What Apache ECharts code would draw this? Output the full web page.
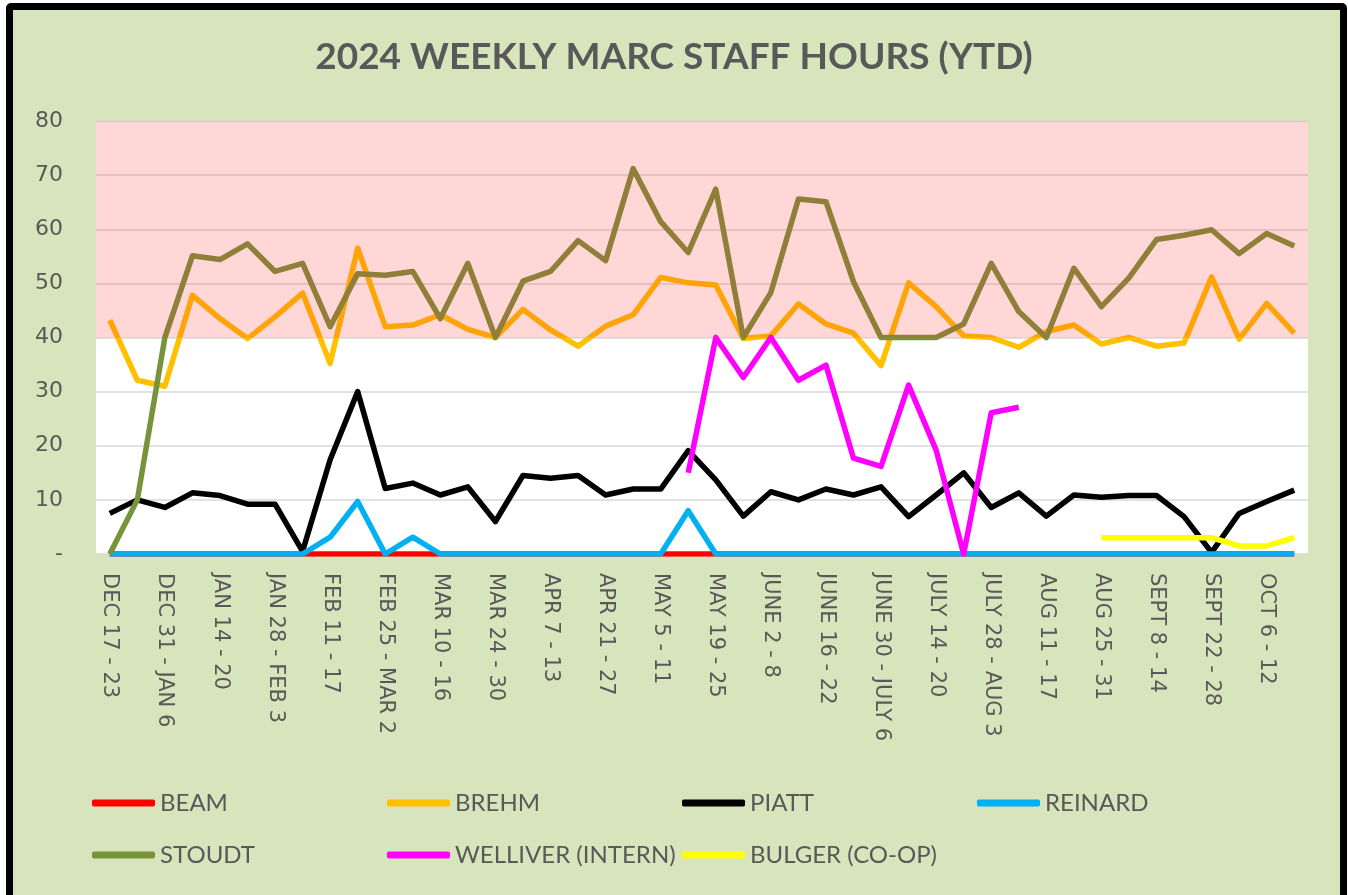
<!DOCTYPE html>
<html>
<head>
<meta charset="utf-8">
<title>2024 Weekly MARC Staff Hours</title>
<script src="https://cdn.jsdelivr.net/npm/echarts@6/dist/echarts.min.js"></script>
<style>
  html, body { margin: 0; padding: 0; background: #fff; }
  .frame {
    position: absolute; left: 6px; top: 3px; width: 1341px; height: 900px;
    box-sizing: border-box; border: 7px solid #000; border-radius: 5px;
    background: #D8E4BC;
  }
  #chart { position: absolute; left: 0; top: 0; width: 1348px; height: 895px; }
</style>
</head>
<body>
<div class="frame"></div>
<div id="chart"></div>
<script>
  // weeks (x axis)
  var weeks = [
    'DEC 17 - 23', 'DEC 24 - 30', 'DEC 31 - JAN 6', 'JAN 7 - 13', 'JAN 14 - 20', 'JAN 21 - 27',
    'JAN 28 - FEB 3', 'FEB 4 - 10', 'FEB 11 - 17', 'FEB 18 - 24', 'FEB 25 - MAR 2', 'MAR 3 - 9',
    'MAR 10 - 16', 'MAR 17 - 23', 'MAR 24 - 30', 'MAR 31 - APR 6', 'APR 7 - 13', 'APR 14 - 20',
    'APR 21 - 27', 'APR 28 - MAY 4', 'MAY 5 - 11', 'MAY 12 - 18', 'MAY 19 - 25', 'MAY 26 - JUNE 1',
    'JUNE 2 - 8', 'JUNE 9 - 15', 'JUNE 16 - 22', 'JUNE 23 - 29', 'JUNE 30 - JULY 6', 'JULY 7 - 13',
    'JULY 14 - 20', 'JULY 21 - 27', 'JULY 28 - AUG 3', 'AUG 4 - 10', 'AUG 11 - 17', 'AUG 18 - 24',
    'AUG 25 - 31', 'SEPT 1 - 7', 'SEPT 8 - 14', 'SEPT 15 - 21', 'SEPT 22 - 28', 'SEPT 29 - OCT 5',
    'OCT 6 - 12', 'OCT 13 - 19'
  ]

  // hours per staff member
  var beam = [0, 0, 0, 0, 0, 0, 0, 0, 0, 0, 0, 0, 0, 0, 0, 0, 0, 0, 0, 0, 0, 0,
    0, 0, 0, 0, 0, 0, 0, 0, 0, 0, 0, 0, 0, 0, 0, 0, 0, 0, 0, 0, 0, 0]
  var brehm = [43.2, 32.1, 31, 47.8, 43.5, 39.8, 43.8, 48.2, 35.2, 56.5, 42, 42.3, 44.2, 41.5, 40, 45.2,
    41.4, 38.4, 42.1, 44.2, 51.1, 50.1, 49.7, 39.8, 40.3, 46.2, 42.5, 40.8, 34.8, 50.1, 45.7, 40.3,
    40, 38.2, 41.1, 42.3, 38.8, 40, 38.4, 39, 51.2, 39.7, 46.3, 40.8]
  var piatt = [7.5, 10, 8.6, 11.3, 10.8, 9.2, 9.2, 0.5, 17.4, 30, 12.1, 13.1, 10.9, 12.4, 6, 14.5,
    14, 14.5, 10.9, 12, 12, 19.1, 13.7, 7, 11.5, 10, 12, 10.9, 12.4, 6.9, 10.9, 15,
    8.6, 11.3, 7, 10.9, 10.5, 10.8, 10.8, 6.9, 0.3, 7.5, 9.7, 11.8]
  var reinard = [0, 0, 0, 0, 0, 0, 0, 0, 3.1, 9.7, 0, 3.1, 0, 0, 0, 0, 0, 0, 0, 0, 0, 8,
    0, 0, 0, 0, 0, 0, 0, 0, 0, 0, 0, 0, 0, 0, 0, 0, 0, 0, 0, 0, 0, 0]
  var stoudt = [0, 10, 40, 55.1, 54.4, 57.3, 52.2, 53.7, 42, 51.8, 51.5, 52.2, 43.5, 53.7, 40, 50.4,
    52.2, 57.9, 54.2, 71.2, 61.4, 55.7, 67.4, 40, 48.3, 65.6, 65.1, 50.3, 40, 40, 40, 42.5,
    53.7, 44.8, 40, 52.8, 45.7, 51, 58.1, 58.9, 59.9, 55.5, 59.2, 56.9]
  var welliver = [null, null, null, null, null, null, null, null, null, null, null, null, null, null, null, null,
    null, null, null, null, null, 15, 40, 32.6, 40, 32.1, 34.9, 17.7, 16.2, 31.2, 19.2, 0,
    26.1, 27.1, null, null, null, null, null, null, null, null, null, null]
  var bulger = [null, null, null, null, null, null, null, null, null, null, null, null, null, null, null, null,
    null, null, null, null, null, null, null, null, null, null, null, null, null, null, null, null,
    null, null, null, null, 3, 3, 3, 3, 3, 1.5, 1.5, 3]

  var names = ['BEAM', 'BREHM', 'PIATT', 'REINARD', 'STOUDT', 'WELLIVER (INTERN)', 'BULGER (CO-OP)']
  var colors = ['#FF0000', '#FFC000', '#000000', '#00B0F0', '#77933C', '#FF00FF', '#FFFF00']
  var values = [beam, brehm, piatt, reinard, stoudt, welliver, bulger]

  var chart = echarts.init(document.getElementById('chart'))

  var series = names.map(function (n, i) {
    return {
      name: n,
      type: 'line',
      data: values[i],
      symbol: 'none',
      lineStyle: { width: 5.5, color: colors[i], join: 'round' },
      itemStyle: { color: colors[i] }
    }
  })
  // pink band (40-80) lies over the lines, like in the original
  series.push({
    name: 'band',
    type: 'line',
    data: weeks.map(function () { return null }),
    z: 10,
    silent: true,
    markArea: {
      z: 10,
      silent: true,
      itemStyle: { color: 'rgba(255,40,40,0.19)' },
      data: [[{ yAxis: 40 }, { yAxis: 80 }]]
    }
  })

  // one legend per entry, 4 columns x 2 rows
  var legends = names.map(function (n, i) {
    return {
      data: [n],
      left: 92 + (i % 4) * 295,
      top: 791 + Math.floor(i / 4) * 52,
      padding: 0,
      icon: 'roundRect',
      itemWidth: 63,
      itemHeight: 7,
      textStyle: { fontSize: 24, fontFamily: 'Lato', color: '#595959' }
    }
  })

  var option = {
    animation: false,
    title: {
      text: '2024 WEEKLY MARC STAFF HOURS (YTD)',
      left: 'center',
      top: 34,
      textStyle: { fontFamily: 'Lato', fontWeight: 'bold', fontSize: 37, color: '#595959' }
    },
    legend: legends,
    grid: { left: 96, right: 40, top: 121, bottom: 341, show: true, backgroundColor: '#fff', borderWidth: 0 },
    xAxis: {
      type: 'category',
      data: weeks,
      boundaryGap: true,
      axisTick: { show: false },
      axisLine: { lineStyle: { color: '#D9D9D9' } },
      axisLabel: { interval: 1, rotate: -90, margin: 19, fontFamily: 'DejaVu Sans', fontSize: 21, color: '#595959' }
    },
    yAxis: {
      type: 'value',
      min: 0,
      max: 80,
      interval: 10,
      axisLine: { show: false },
      axisTick: { show: false },
      splitLine: { lineStyle: { color: '#D9D9D9', width: 1.5 } },
      axisLabel: {
        margin: 33, fontFamily: 'DejaVu Sans', fontSize: 22, color: '#595959',
        formatter: function (v) { return v === 0 ? '-' : v }
      }
    },
    series: series
  }
  chart.setOption(option)
</script>
</body>
</html>
